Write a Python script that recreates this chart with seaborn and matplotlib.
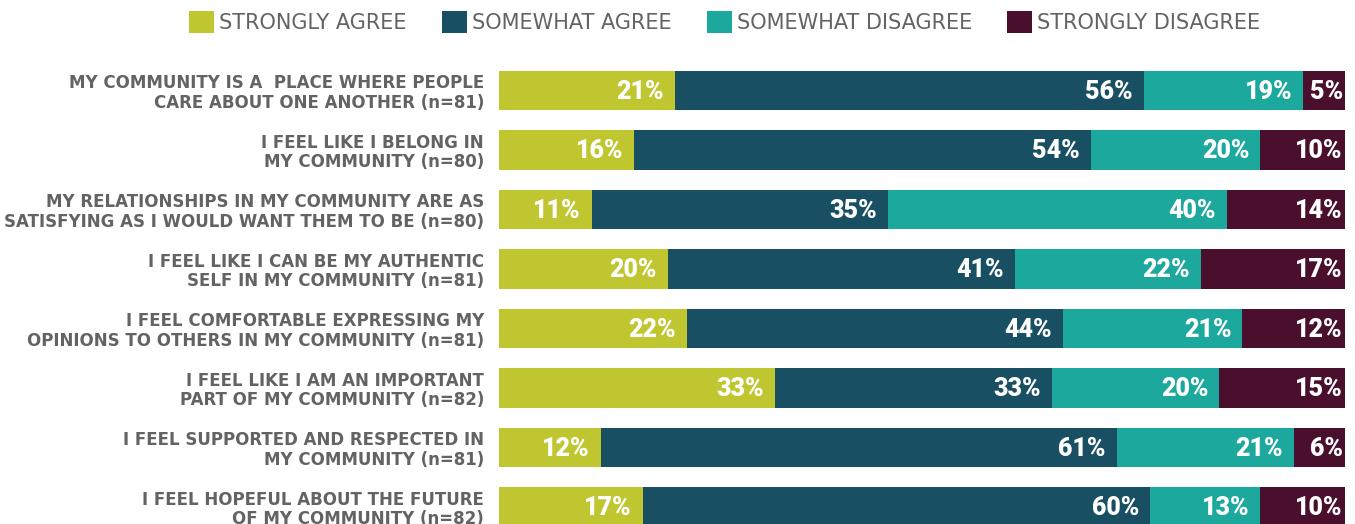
import matplotlib
matplotlib.use("Agg")
import matplotlib.pyplot as plt
from matplotlib.patches import Patch
import numpy as np
import pandas as pd
import seaborn as sns

# Survey statements (top to bottom)
statements = [
    "MY COMMUNITY IS A  PLACE WHERE PEOPLE\nCARE ABOUT ONE ANOTHER (n=81)",
    "I FEEL LIKE I BELONG IN\nMY COMMUNITY (n=80)",
    "MY RELATIONSHIPS IN MY COMMUNITY ARE AS\nSATISFYING AS I WOULD WANT THEM TO BE (n=80)",
    "I FEEL LIKE I CAN BE MY AUTHENTIC\nSELF IN MY COMMUNITY (n=81)",
    "I FEEL COMFORTABLE EXPRESSING MY\nOPINIONS TO OTHERS IN MY COMMUNITY (n=81)",
    "I FEEL LIKE I AM AN IMPORTANT\nPART OF MY COMMUNITY (n=82)",
    "I FEEL SUPPORTED AND RESPECTED IN\nMY COMMUNITY (n=81)",
    "I FEEL HOPEFUL ABOUT THE FUTURE\nOF MY COMMUNITY (n=82)",
]

responses = ["STRONGLY AGREE", "SOMEWHAT AGREE", "SOMEWHAT DISAGREE", "STRONGLY DISAGREE"]

# Percent of respondents per answer
strongly_agree = [21, 16, 11, 20, 22, 33, 12, 17]
somewhat_agree = [56, 54, 35, 41, 44, 33, 61, 60]
somewhat_disagree = [19, 20, 40, 22, 21, 20, 21, 13]
strongly_disagree = [5, 10, 14, 17, 12, 15, 6, 10]

colors = ["#bfc62f", "#184f62", "#1ca89d", "#4a0f2c"]
label_gray = "#636363"

sns.set_theme(style="white")
plt.rcParams["font.family"] = ["DejaVu Sans"]

df = pd.DataFrame({
    "statement": statements,
    responses[0]: strongly_agree,
    responses[1]: somewhat_agree,
    responses[2]: somewhat_disagree,
    responses[3]: strongly_disagree,
})

# Each row is scaled to a full 100% bar
values = df[responses].to_numpy(dtype=float)
shares = values / values.sum(axis=1, keepdims=True) * 100
cum = np.cumsum(shares, axis=1)

fig = plt.figure(figsize=(13.55, 5.24), dpi=100)
ax = fig.add_axes([499 / 1355, 0.0, (1345 - 499) / 1355, 1.0])

# Stack by overlaying cumulative totals, widest first
for k in range(len(responses) - 1, -1, -1):
    plot_df = pd.DataFrame({"statement": statements, "cum": cum[:, k]})
    sns.barplot(data=plot_df, x="cum", y="statement", orient="h",
                color=colors[k], saturation=1, width=0.656,
                linewidth=0, ax=ax)

# Percentage labels at the right end of each segment
for i in range(len(statements)):
    for k in range(len(responses)):
        right = cum[i, k]
        off = -0.25 if k == len(responses) - 1 else -1.3
        ax.text(right + off, i + 0.02, f"{int(values[i, k])}%",
                ha="right", va="center", color="white",
                fontsize=18, fontweight="heavy", family=["Roboto", "DejaVu Sans"])

ax.set_xlim(0, 100)
ax.set_ylim(7.286, -1.521)
ax.set_xlabel("")
ax.set_ylabel("")
ax.set_xticks([])
ax.set_yticks(range(len(statements)))
ax.set_yticklabels(statements, fontsize=12.0, fontweight="bold", color=label_gray,
                   ha="right", multialignment="right", linespacing=1.08)
ax.tick_params(axis="y", length=0, pad=10.8)
for s in ax.spines.values():
    s.set_visible(False)

handles = [Patch(facecolor=c, edgecolor="none") for c in colors]
fig.legend(handles, responses, loc="center left",
           bbox_to_anchor=(189 / 1355, 1 - 22 / 524), ncol=4, frameon=False,
           prop={"size": 15, "family": "DejaVu Sans"}, labelcolor=label_gray,
           handlelength=1.2, handleheight=1.2, handletextpad=0.25,
           columnspacing=1.68, borderpad=0, borderaxespad=0)

fig.savefig("out.png", dpi=100)
